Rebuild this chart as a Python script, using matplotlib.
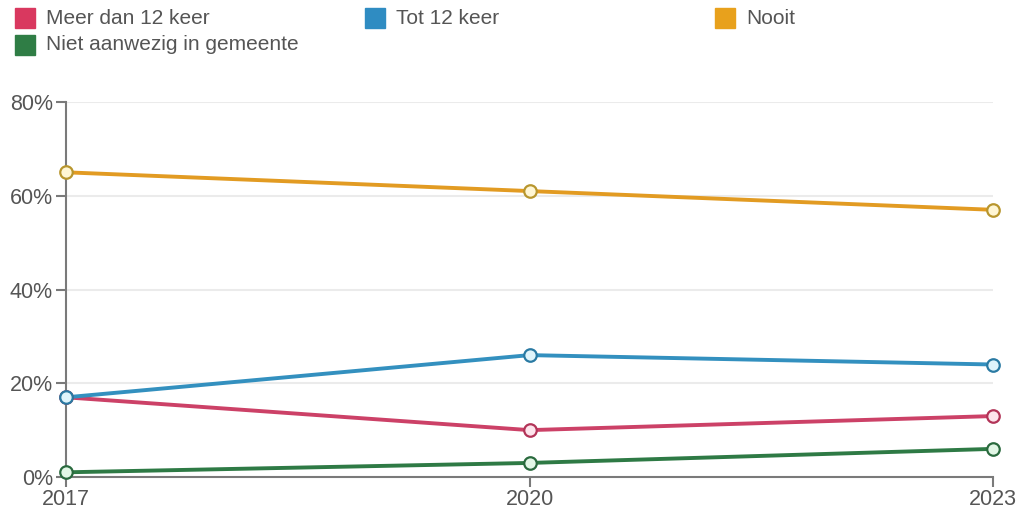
import matplotlib
matplotlib.use("Agg")
import matplotlib.pyplot as plt
from matplotlib.patches import Rectangle

plt.rcParams['font.family'] = ['Liberation Sans', 'DejaVu Sans']

years = [2017, 2020, 2023]
series_names = ["Meer dan 12 keer", "Tot 12 keer", "Nooit", "Niet aanwezig in gemeente"]
meer_dan_12 = [17, 10, 13]
tot_12 = [17, 26, 24]
nooit = [65, 61, 57]
niet_aanwezig = [1, 3, 6]
y_ticks = [0, 20, 40, 60, 80]
y_tick_labels = ["0%", "20%", "40%", "60%", "80%"]

line_colors = ["#cc4167", "#3390bf", "#e29b22", "#2e7a45"]
edge_colors = ["#b23458", "#2a7aa3", "#b8962e", "#2a6a3e"]
fill_colors = ["#fde4ec", "#dff4fb", "#fff6d4", "#e2f7e6"]
legend_colors = ["#d9385f", "#2f8cc2", "#e8a11c", "#2f7d45"]

fig = plt.figure(figsize=(10.23, 5.13), dpi=100)
W, H = 1023, 513
ax = fig.add_axes([66 / W, (H - 477) / H, (993 - 66) / W, (477 - 102) / H])

data = [meer_dan_12, tot_12, nooit, niet_aanwezig]
order = [3, 0, 1, 2]
for i in order:
    ax.plot(years, data[i], color=line_colors[i], lw=2.8, zorder=3 + i,
            solid_capstyle='round', clip_on=False)
    ax.plot(years, data[i], ls='none', marker='o', ms=9, mfc=fill_colors[i],
            mec=edge_colors[i], mew=1.6, zorder=10 + i, clip_on=False)

ax.set_xlim(2017, 2023)
ax.set_ylim(0, 80)
ax.set_xticks(years)
ax.set_xticklabels([str(y) for y in years])
ax.set_yticks(y_ticks)
ax.set_yticklabels(y_tick_labels)
for yv in y_ticks[1:]:
    ax.axhline(yv, color="#ebebeb", lw=1.5, zorder=1)

for s in ['top', 'right']:
    ax.spines[s].set_visible(False)
for s in ['left', 'bottom']:
    ax.spines[s].set_color('#7a7a7a')
    ax.spines[s].set_linewidth(1.5)
ax.tick_params(axis='both', colors='#7a7a7a', labelcolor='#555555', labelsize=15.5,
               width=1.5, length=7.5)
ax.tick_params(axis='x', pad=1)
ax.tick_params(axis='y', pad=2)

# Legend
legend_pos = [(15, 8), (365, 8), (715, 8), (15, 35)]
for i, name in enumerate(series_names):
    x, y = legend_pos[i]
    fig.patches.append(Rectangle((x / W, 1 - (y + 20) / H), 20 / W, 20 / H,
                                 transform=fig.transFigure, color=legend_colors[i],
                                 figure=fig))
    fig.text((x + 31) / W, 1 - (y + 10) / H, name, fontsize=15, color='#555555',
             va='center', ha='left')

fig.savefig("out.png", dpi=100)
